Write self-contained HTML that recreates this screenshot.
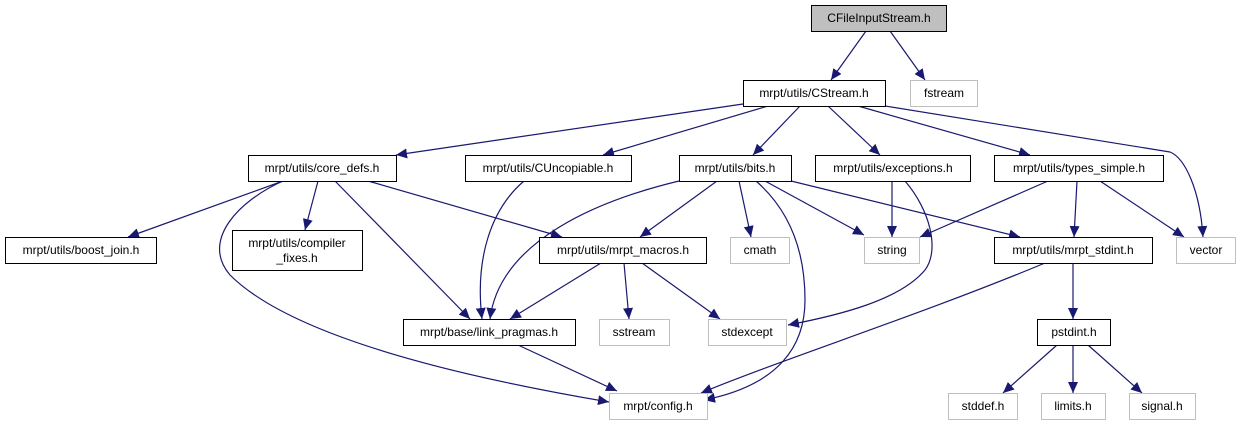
<!DOCTYPE html>
<html><head><meta charset="utf-8"><style>
html,body{margin:0;padding:0;background:#fff;}
svg{display:block;}
text{font-family:"Liberation Sans",Helvetica,sans-serif;font-size:12px;fill:#000;text-anchor:middle;}
</style></head><body>
<svg width="1239" height="425" viewBox="0 0 1239 425" xmlns="http://www.w3.org/2000/svg">
<defs>
<marker id="a" markerUnits="userSpaceOnUse" markerWidth="12" markerHeight="10" refX="11" refY="5" orient="auto">
<path d="M0,0 L11,5 L0,10 z" fill="#191970"/>
</marker>
</defs>
<g fill="none" stroke="#191970" stroke-width="1.2" marker-end="url(#a)">
<path d="M866 31 L831 80"/>
<path d="M890 31 L925 80"/>
<path d="M743 104 L396 155"/>
<path d="M768 106 L603 155"/>
<path d="M800 106 L753 155"/>
<path d="M828 106 L880 155"/>
<path d="M858 106 L1030 155"/>
<path d="M885 106 L1170 152 C1185 158 1200 190 1203 237"/>
<path d="M283 181 L128 237"/>
<path d="M318 181 L305 230"/>
<path d="M335 181 L470 319"/>
<path d="M368 181 L562 237"/>
<path d="M283 181 C240 200 200 240 230 275 C290 335 450 375 609 402"/>
<path d="M524 181 C490 210 475 260 482 319"/>
<path d="M679 181 C600 200 500 240 490 319"/>
<path d="M717 181 L640 237"/>
<path d="M739 181 L751 237"/>
<path d="M756 181 C795 215 805 260 805 300 C805 345 780 385 704 400"/>
<path d="M765 181 L864 235"/>
<path d="M791 181 L1020 237"/>
<path d="M892 181 L892 237"/>
<path d="M905 181 C930 210 940 250 925 270 C900 300 840 315 788 325"/>
<path d="M1048 181 L920 237"/>
<path d="M1077 181 L1074 237"/>
<path d="M1100 181 L1184 237"/>
<path d="M601 263 L510 319"/>
<path d="M624 263 L629 319"/>
<path d="M642 263 L720 319"/>
<path d="M518 345 L617 391"/>
<path d="M1045 263 C920 315 780 360 701 393"/>
<path d="M1073 263 L1073 319"/>
<path d="M1057 345 L1003 393"/>
<path d="M1073 345 L1073 393"/>
<path d="M1088 345 L1142 393"/>
</g>
<g stroke-width="1">
<rect x="811.5" y="5.5" width="135" height="26" fill="#bfbfbf" stroke="#000"/>
<rect x="743.5" y="80.5" width="142" height="26" fill="#fff" stroke="#000"/>
<rect x="910.5" y="80.5" width="67" height="26" fill="#fff" stroke="#bfbfbf"/>
<rect x="248.5" y="155.5" width="148" height="26" fill="#fff" stroke="#000"/>
<rect x="465.5" y="155.5" width="166" height="26" fill="#fff" stroke="#000"/>
<rect x="679.5" y="155.5" width="112" height="26" fill="#fff" stroke="#000"/>
<rect x="815.5" y="155.5" width="155" height="26" fill="#fff" stroke="#000"/>
<rect x="994.5" y="155.5" width="169" height="26" fill="#fff" stroke="#000"/>
<rect x="5.5" y="237.5" width="151" height="26" fill="#fff" stroke="#000"/>
<rect x="232.5" y="230.5" width="130" height="40" fill="#fff" stroke="#000"/>
<rect x="539.5" y="237.5" width="167" height="26" fill="#fff" stroke="#000"/>
<rect x="730.5" y="237.5" width="59" height="26" fill="#fff" stroke="#bfbfbf"/>
<rect x="864.5" y="237.5" width="55" height="26" fill="#fff" stroke="#bfbfbf"/>
<rect x="994.5" y="237.5" width="158" height="26" fill="#fff" stroke="#000"/>
<rect x="1176.5" y="237.5" width="59" height="26" fill="#fff" stroke="#bfbfbf"/>
<rect x="403.5" y="319.5" width="172" height="26" fill="#fff" stroke="#000"/>
<rect x="599.5" y="319.5" width="70" height="26" fill="#fff" stroke="#bfbfbf"/>
<rect x="708.5" y="319.5" width="78" height="26" fill="#fff" stroke="#bfbfbf"/>
<rect x="1037.5" y="319.5" width="73" height="26" fill="#fff" stroke="#000"/>
<rect x="609.5" y="393.5" width="98" height="26" fill="#fff" stroke="#bfbfbf"/>
<rect x="948.5" y="393.5" width="69" height="26" fill="#fff" stroke="#bfbfbf"/>
<rect x="1041.5" y="393.5" width="64" height="26" fill="#fff" stroke="#bfbfbf"/>
<rect x="1129.5" y="393.5" width="66" height="26" fill="#fff" stroke="#bfbfbf"/>
</g>
<text x="879" y="22">CFileInputStream.h</text>
<text x="814" y="97">mrpt/utils/CStream.h</text>
<text x="944" y="97">fstream</text>
<text x="322" y="172">mrpt/utils/core_defs.h</text>
<text x="548" y="172">mrpt/utils/CUncopiable.h</text>
<text x="735" y="172">mrpt/utils/bits.h</text>
<text x="893" y="172">mrpt/utils/exceptions.h</text>
<text x="1079" y="172">mrpt/utils/types_simple.h</text>
<text x="81" y="254">mrpt/utils/boost_join.h</text>
<text x="297" y="247">mrpt/utils/compiler</text>
<text x="297" y="262">_fixes.h</text>
<text x="623" y="254">mrpt/utils/mrpt_macros.h</text>
<text x="760" y="254">cmath</text>
<text x="892" y="254">string</text>
<text x="1073" y="254">mrpt/utils/mrpt_stdint.h</text>
<text x="1206" y="254">vector</text>
<text x="489" y="336">mrpt/base/link_pragmas.h</text>
<text x="634" y="336">sstream</text>
<text x="747" y="336">stdexcept</text>
<text x="1074" y="336">pstdint.h</text>
<text x="658" y="410">mrpt/config.h</text>
<text x="983" y="410">stddef.h</text>
<text x="1073" y="410">limits.h</text>
<text x="1162" y="410">signal.h</text>
</svg>
</body></html>
